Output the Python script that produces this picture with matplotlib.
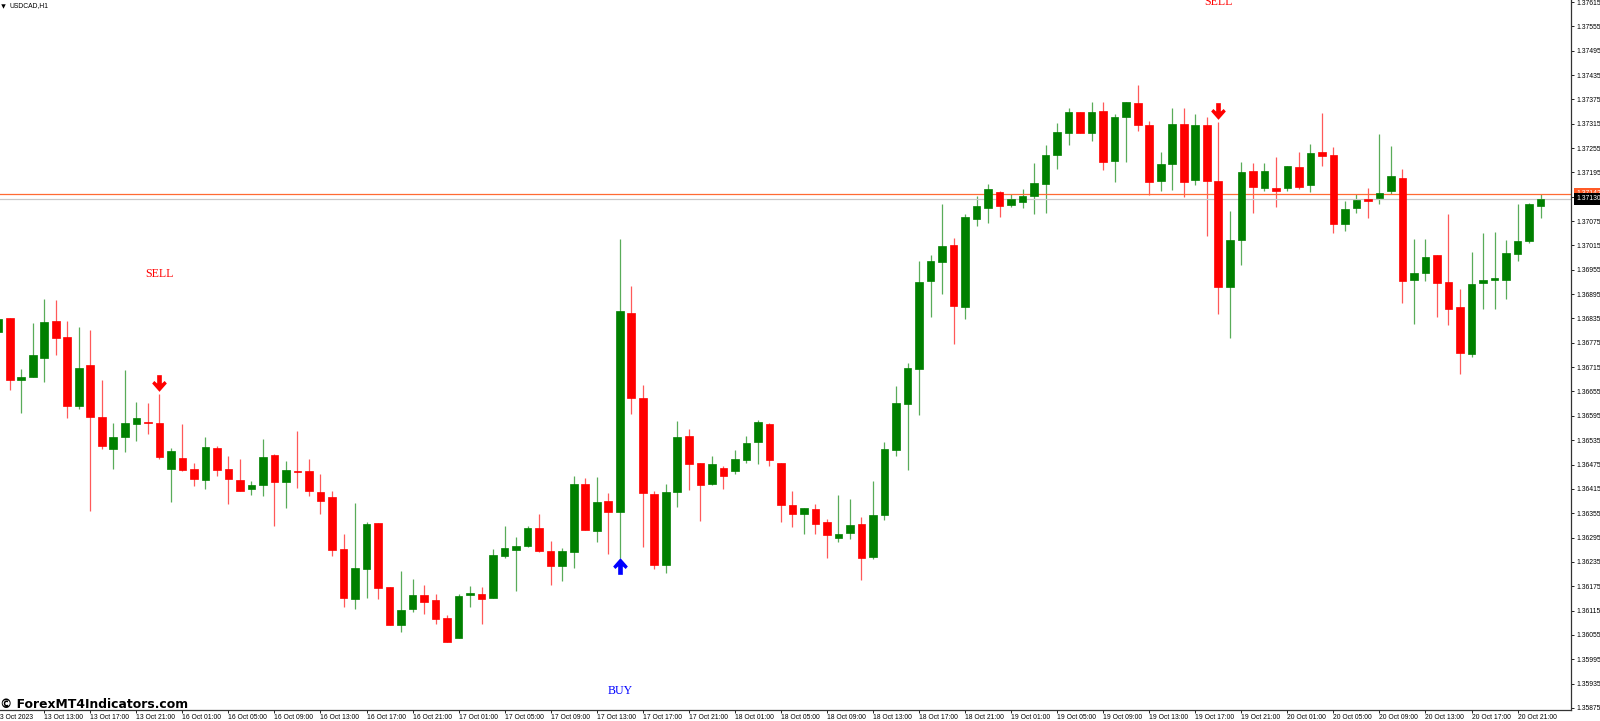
import matplotlib
matplotlib.use("Agg")
import matplotlib.pyplot as plt
import numpy as np
from matplotlib.path import Path

# USDCAD H1 candles, prices in 1e-5 units, first candle is cut by the left edge
opens = [136802, 136835, 136683, 136690, 136738, 136828, 136789, 136620, 136720, 136593, 136514, 136543, 136576, 136580, 136577,
         136465, 136492, 136463, 136438, 136515, 136463, 136438, 136415, 136425, 136499, 136433, 136460, 136458, 136408, 136394,
         136266, 136143, 136218, 136331, 136172, 136079, 136118, 136154, 136140, 136097, 136047, 136153, 136156, 136147, 136249,
         136265, 136273, 136318, 136261, 136226, 136260, 136426, 136312, 136385, 136359, 136848, 136639, 136403, 136227, 136407,
         136545, 136479, 136426, 136466, 136459, 136486, 136530, 136575, 136478, 136374, 136352, 136365, 136333, 136294, 136306,
         136328, 136248, 136350, 136511, 136624, 136710, 136927, 136975, 137015, 136863, 137079, 137108, 137147, 137115, 137123,
         137137, 137167, 137238, 137293, 137345, 137293, 137346, 137224, 137332, 137366, 137313, 137175, 137216, 137314, 137176,
         137311, 137173, 136913, 137028, 137199, 137156, 137156, 137156, 137208, 137165, 137245, 137239, 137069, 137107, 137129,
         137133, 137150, 137182, 136929, 136946, 136991, 136925, 136864, 136748, 136923, 136929, 136930, 136995, 137025, 137112]
highs = [136840, 136836, 136711, 136823, 136884, 136881, 136828, 136813, 136806, 136683, 136577, 136708, 136628, 136626, 136648,
         136515, 136575, 136478, 136542, 136521, 136495, 136488, 136434, 136537, 136501, 136483, 136557, 136488, 136451, 136409,
         136304, 136379, 136334, 136331, 136174, 136212, 136193, 136178, 136156, 136104, 136155, 136175, 136172, 136266, 136323,
         136296, 136323, 136352, 136286, 136269, 136446, 136442, 136444, 136405, 137030, 136915, 136671, 136410, 136426, 136582,
         136562, 136479, 136497, 136471, 136511, 136545, 136584, 136577, 136478, 136410, 136368, 136378, 136341, 136401, 136389,
         136346, 136435, 136530, 136668, 136726, 136977, 136991, 137116, 137033, 137093, 137137, 137166, 137149, 137143, 137155,
         137219, 137263, 137317, 137355, 137345, 137368, 137368, 137339, 137368, 137411, 137321, 137245, 137355, 137354, 137338,
         137332, 137320, 137100, 137221, 137217, 137219, 137232, 137210, 137246, 137264, 137341, 137258, 137125, 137143, 137157,
         137290, 137260, 137203, 137031, 137031, 136991, 137092, 136907, 136999, 137045, 137049, 137029, 137118, 137120, 137143]
lows = [136790, 136659, 136601, 136690, 136678, 136744, 136590, 136612, 136361, 136512, 136465, 136507, 136534, 136549, 136489,
        136383, 136458, 136421, 136415, 136447, 136377, 136410, 136401, 136397, 136323, 136368, 136418, 136398, 136352, 136249,
        136124, 136118, 136147, 136143, 136079, 136061, 136112, 136107, 136083, 136038, 136047, 136123, 136082, 136147, 136245,
        136162, 136272, 136260, 136179, 136189, 136219, 136313, 136284, 136255, 136244, 136599, 136272, 136218, 136208, 136370,
        136412, 136336, 136424, 136415, 136452, 136478, 136477, 136472, 136333, 136320, 136304, 136304, 136245, 136284, 136291,
        136190, 136243, 136338, 136496, 136462, 136597, 136839, 136895, 136772, 136834, 137064, 137071, 137085, 137110, 137107,
        137092, 137094, 137204, 137263, 137293, 137273, 137202, 137171, 137220, 137298, 137139, 137150, 137152, 137135, 137165,
        137039, 136845, 136788, 136966, 137094, 137150, 137110, 137150, 137155, 137147, 137212, 137046, 137051, 137096, 137083,
        137118, 137141, 136874, 136822, 136927, 136838, 136819, 136698, 136740, 136859, 136859, 136883, 136977, 137021, 137083]
closes = [136834, 136683, 136690, 136745, 136826, 136788, 136620, 136712, 136592, 136521, 136543, 136577, 136589, 136577, 136493,
          136509, 136461, 136439, 136518, 136461, 136439, 136410, 136424, 136493, 136433, 136461, 136456, 136409, 136386, 136264,
          136145, 136220, 136328, 136171, 136079, 136117, 136154, 136136, 136095, 136038, 136151, 136158, 136144, 136252, 136268,
          136275, 136318, 136263, 136226, 136261, 136426, 136313, 136383, 136359, 136853, 136640, 136404, 136227, 136408, 136543,
          136477, 136425, 136476, 136447, 136488, 136527, 136579, 136485, 136375, 136354, 136368, 136328, 136300, 136304, 136327,
          136245, 136350, 136513, 136627, 136712, 136925, 136977, 137013, 136865, 137084, 137112, 137154, 137111, 137129, 137137,
          137169, 137238, 137295, 137345, 137293, 137345, 137220, 137331, 137368, 137313, 137172, 137216, 137314, 137172, 137313,
          137175, 136913, 137028, 137195, 137160, 137198, 137149, 137210, 137159, 137242, 137236, 137069, 137106, 137128, 137125,
          137144, 137187, 136927, 136948, 136987, 136923, 136859, 136750, 136921, 136930, 136934, 136997, 137025, 137117, 137129]

# bid line and the orange level line
bid_price = 1.37130
level_price = 1.37142

price_ticks = [1.37615, 1.37555, 1.37495, 1.37435, 1.37375, 1.37315, 1.37255, 1.37195, 1.37135, 1.37075,
               1.37015, 1.36955, 1.36895, 1.36835, 1.36775, 1.36715, 1.36655, 1.36595, 1.36535, 1.36475,
               1.36415, 1.36355, 1.36295, 1.36235, 1.36175, 1.36115, 1.36055, 1.35995, 1.35935, 1.35875]
time_labels = ["13 Oct 13:00", "13 Oct 17:00", "13 Oct 21:00",
               "16 Oct 01:00", "16 Oct 05:00", "16 Oct 09:00", "16 Oct 13:00", "16 Oct 17:00", "16 Oct 21:00",
               "17 Oct 01:00", "17 Oct 05:00", "17 Oct 09:00", "17 Oct 13:00", "17 Oct 17:00", "17 Oct 21:00",
               "18 Oct 01:00", "18 Oct 05:00", "18 Oct 09:00", "18 Oct 13:00", "18 Oct 17:00", "18 Oct 21:00",
               "19 Oct 01:00", "19 Oct 05:00", "19 Oct 09:00", "19 Oct 13:00", "19 Oct 17:00", "19 Oct 21:00",
               "20 Oct 01:00", "20 Oct 05:00", "20 Oct 09:00", "20 Oct 13:00", "20 Oct 17:00", "20 Oct 21:00"]

# signals: candle number and price
sell_arrows = [(13, 1.36675), (105, 1.37346)]
buy_arrows = [(53, 1.36224)]
sell_labels = [(13, 1.36945), (105, 1.37615)]
buy_labels = [(53, 1.35917)]

GREEN = "#008000"
RED = "#ff0000"
LABEL_FONT = "Liberation Sans"
LABEL_SIZE = 4.9

opens = np.array(opens) / 1e5
highs = np.array(highs) / 1e5
lows = np.array(lows) / 1e5
closes = np.array(closes) / 1e5
xs = np.arange(len(opens)) - 1
colors = [GREEN if c >= o else RED for o, c in zip(opens, closes)]

fig = plt.figure(figsize=(16, 7.21), dpi=100)
ax = fig.add_axes([0, (721 - 710.3) / 721, 1571.3 / 1600, 710.3 / 721])

# Candles
ax.vlines(xs, lows, highs, colors=colors, linewidth=0.9, alpha=0.65, zorder=1)
ax.bar(xs, np.abs(closes - opens), 0.66, bottom=np.minimum(opens, closes), color=colors,
       edgecolor=colors, linewidth=0.5, zorder=3)

# Price lines
ax.axhline(level_price, color="#ff6a33", linewidth=0.9, zorder=2)
ax.axhline(bid_price, color="#c8c8c8", linewidth=0.9, zorder=2)

# Arrows
arrow_down = Path([(-0.28, 1), (0.28, 1), (0.28, 0.0), (0.62, 0.3), (0.88, 0.0), (0, -1),
                   (-0.88, 0.0), (-0.62, 0.3), (-0.28, 0.0), (-0.28, 1)], closed=True)
arrow_up = Path(arrow_down.vertices * [1, -1], closed=True)
for x, y in sell_arrows:
    ax.plot(x, y, marker=arrow_down, markersize=12, color=RED, markeredgewidth=0, zorder=4)
for x, y in buy_arrows:
    ax.plot(x, y, marker=arrow_up, markersize=12, color="#0000ff", markeredgewidth=0, zorder=4)

for x, y in sell_labels:
    ax.text(x, y, "SELL", color=RED, family="Liberation Serif", fontsize=8.6, ha="center", va="center")
for x, y in buy_labels:
    ax.text(x, y, "BUY", color="#0000ff", family="Liberation Serif", fontsize=8.6, ha="center", va="center")

ax.set_xlim(-0.843, 135.67)
ax.set_ylim(1.358691, 1.37620)

ax.yaxis.tick_right()
ax.set_yticks(price_ticks)
ax.set_yticklabels([f"{p:.5f}" for p in price_ticks], family=LABEL_FONT, fontsize=LABEL_SIZE)
ax.tick_params(axis="y", length=1.8, width=0.7, pad=2, color="#222222", labelcolor="black")

time_ticks = np.arange(3, 132, 4)
ax.set_xticks(time_ticks)
ax.set_xticklabels(time_labels, family=LABEL_FONT, fontsize=LABEL_SIZE, ha="left")
ax.tick_params(axis="x", length=1.8, width=0.7, pad=1.2, color="#222222", labelcolor="black")

# first date label runs off the left edge
ax.text(-1.19, -0.0098, "13 Oct 2023", transform=ax.get_xaxis_transform(), family=LABEL_FONT,
        fontsize=LABEL_SIZE, color="black", ha="left", va="center", clip_on=False)

for side in ["top", "left"]:
    ax.spines[side].set_visible(False)
for side in ["right", "bottom"]:
    ax.spines[side].set_linewidth(0.9)
    ax.spines[side].set_color("#333333")

# Price boxes on the right scale
ax.text(1.0035, level_price, f"{level_price:.5f}", transform=ax.get_yaxis_transform(), color="white",
        family=LABEL_FONT, fontsize=LABEL_SIZE, va="center", ha="left", zorder=6, clip_on=False,
        bbox=dict(boxstyle="square,pad=0.35", facecolor="#ff5a26", edgecolor="none"))
ax.text(1.0035, bid_price, f"{bid_price:.5f}", transform=ax.get_yaxis_transform(), color="white",
        family=LABEL_FONT, fontsize=LABEL_SIZE, va="center", ha="left", zorder=7, clip_on=False,
        bbox=dict(boxstyle="square,pad=0.35", facecolor="black", edgecolor="none"))

# Header and watermark
ax.plot([3 / 1571.3], [1 - 5.5 / 710.3], transform=ax.transAxes, marker="v", markersize=3.2, color="black",
        markeredgewidth=0, clip_on=False)
fig.text(9 / 1600, 1 - 5.8 / 721, "USDCAD,H1", family=LABEL_FONT, fontsize=LABEL_SIZE, color="black", va="center")
fig.text(0.5 / 1600, 1 - 704 / 721, "© ForexMT4Indicators.com", family="DejaVu Sans", weight="bold", fontsize=8.95,
         color="black", va="center")

fig.savefig("out.png", dpi=100)
plt.close(fig)
